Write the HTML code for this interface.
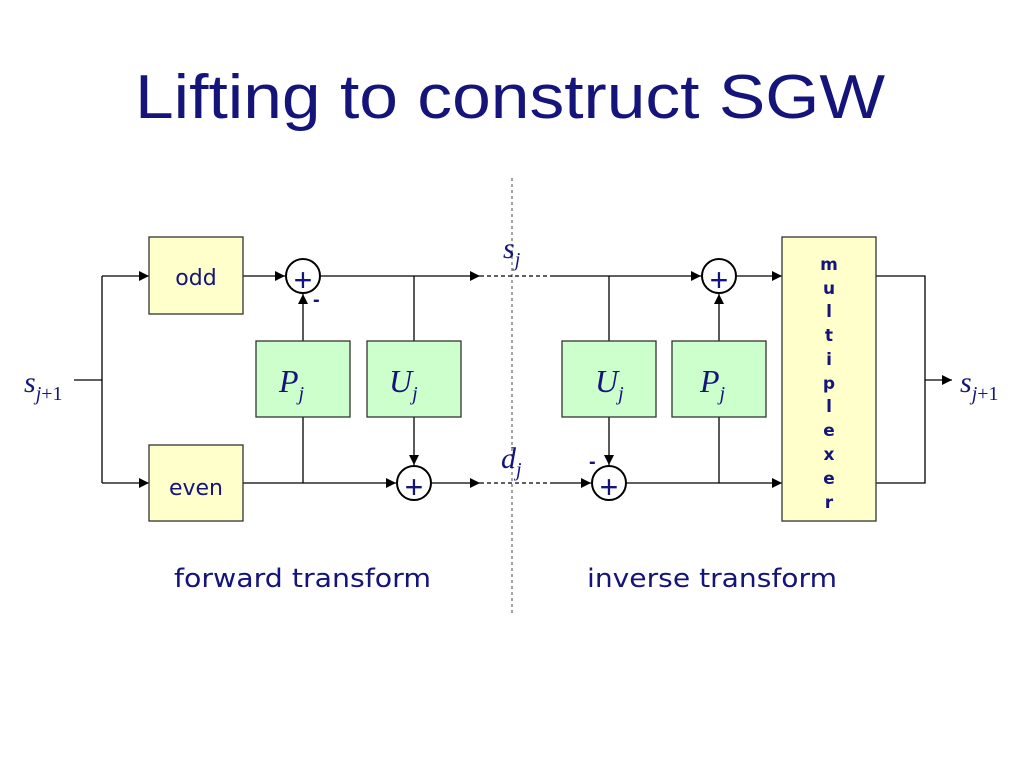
<!DOCTYPE html>
<html><head><meta charset="utf-8"><style>html,body{margin:0;padding:0;background:#fff}svg{display:block}</style></head>
<body>
<svg width="1024" height="768" xmlns="http://www.w3.org/2000/svg">
<defs>
<marker id="a" viewBox="0 0 10 10" refX="10" refY="5" markerWidth="10" markerHeight="12" markerUnits="userSpaceOnUse" orient="auto"><path d="M0,0 L10,5 L0,10 z" fill="#000"/></marker>
<marker id="b" viewBox="0 0 10 10" refX="10" refY="5" markerWidth="13" markerHeight="10" markerUnits="userSpaceOnUse" orient="auto"><path d="M0,0 L10,5 L0,10 z" fill="#000"/></marker>
</defs>
<text x="510" y="118" text-anchor="middle" font-family="'Comic Sans MS','Liberation Sans',sans-serif" font-size="62" fill="#14147a" textLength="750" lengthAdjust="spacingAndGlyphs">Lifting to construct SGW</text>
<line x1="512" y1="178" x2="512" y2="614" stroke="#888" stroke-width="1.5" stroke-dasharray="3,3"/>
<g stroke="#000" stroke-width="1.3" fill="none">
<line x1="74" y1="380" x2="102" y2="380"/>
<line x1="102" y1="276" x2="102" y2="483"/>
<line x1="102" y1="276" x2="149" y2="276" marker-end="url(#b)"/>
<line x1="102" y1="483" x2="149" y2="483" marker-end="url(#b)"/>
<line x1="243" y1="276" x2="285" y2="276" marker-end="url(#b)"/>
<line x1="321" y1="276" x2="480" y2="276" marker-end="url(#b)"/>
<line x1="243" y1="483" x2="396" y2="483" marker-end="url(#b)"/>
<line x1="432" y1="483" x2="480" y2="483" marker-end="url(#b)"/>
<line x1="303" y1="341" x2="303" y2="294" marker-end="url(#a)"/>
<line x1="303" y1="417" x2="303" y2="483"/>
<line x1="414" y1="276" x2="414" y2="341"/>
<line x1="414" y1="417" x2="414" y2="465" marker-end="url(#a)"/>
<line x1="480" y1="276" x2="550" y2="276" stroke-dasharray="4,3"/>
<line x1="480" y1="483" x2="550" y2="483" stroke-dasharray="4,3"/>
<line x1="550" y1="276" x2="701" y2="276" marker-end="url(#b)"/>
<line x1="550" y1="483" x2="591" y2="483" marker-end="url(#b)"/>
<line x1="737" y1="276" x2="782" y2="276" marker-end="url(#b)"/>
<line x1="627" y1="483" x2="782" y2="483" marker-end="url(#b)"/>
<line x1="609" y1="276" x2="609" y2="341"/>
<line x1="609" y1="417" x2="609" y2="465" marker-end="url(#a)"/>
<line x1="719" y1="341" x2="719" y2="294" marker-end="url(#a)"/>
<line x1="719" y1="417" x2="719" y2="483"/>
<polyline points="876,276 925,276 925,483 876,483"/>
<line x1="925" y1="380" x2="952" y2="380" marker-end="url(#b)"/>
</g>
<g stroke="#333" stroke-width="1.3">
<rect x="149" y="237" width="94" height="77" fill="#ffffcc"/>
<rect x="149" y="445" width="94" height="76" fill="#ffffcc"/>
<rect x="256" y="341" width="94" height="76" fill="#ccffcc"/>
<rect x="367" y="341" width="94" height="76" fill="#ccffcc"/>
<rect x="562" y="341" width="94" height="76" fill="#ccffcc"/>
<rect x="672" y="341" width="94" height="76" fill="#ccffcc"/>
<rect x="782" y="237" width="94" height="284" fill="#ffffcc"/>
</g>
<g stroke="#000" stroke-width="2" fill="#fff">
<circle cx="303" cy="276" r="17"/><circle cx="414" cy="483" r="17"/>
<circle cx="719" cy="276" r="17"/><circle cx="609" cy="483" r="17"/>
</g>
<g font-family="'Liberation Sans',sans-serif" font-size="32" fill="#14147a" text-anchor="middle">
<text x="303" y="291">+</text><text x="414" y="498">+</text><text x="719" y="291">+</text><text x="609" y="498">+</text>
</g>
<g font-family="'Liberation Sans',sans-serif" fill="#14147a" font-weight="bold" font-size="20">
<text x="313" y="306">-</text><text x="589" y="468">-</text>
</g>
<g font-family="'DejaVu Sans','Liberation Sans',sans-serif" font-size="22" fill="#14147a" text-anchor="middle">
<text x="196" y="285">odd</text><text x="196" y="495">even</text>
</g>
<g font-family="'Liberation Serif',serif" font-style="italic" fill="#14147a">
<text x="279" y="392" font-size="32">P<tspan font-size="20" dy="8">j</tspan></text>
<text x="389" y="392" font-size="32">U<tspan font-size="20" dy="8">j</tspan></text>
<text x="595" y="392" font-size="32">U<tspan font-size="20" dy="8">j</tspan></text>
<text x="700" y="392" font-size="32">P<tspan font-size="20" dy="8">j</tspan></text>
<text x="24" y="392" font-size="30">s<tspan font-size="20" dy="8">j</tspan><tspan font-style="normal" font-size="20">+1</tspan></text>
<text x="960" y="392" font-size="30">s<tspan font-size="20" dy="8">j</tspan><tspan font-style="normal" font-size="20">+1</tspan></text>
<text x="503" y="258" font-size="30">s<tspan font-size="20" dy="8">j</tspan></text>
<text x="501" y="468" font-size="30">d<tspan font-size="20" dy="8">j</tspan></text>
</g>
<g font-family="'DejaVu Sans','Liberation Sans',sans-serif" font-size="17" font-weight="bold" fill="#14147a" text-anchor="middle">
<text x="829" y="270">m</text><text x="829" y="294">u</text><text x="829" y="317">l</text><text x="829" y="341">t</text><text x="829" y="365">i</text><text x="829" y="389">p</text><text x="829" y="412">l</text><text x="829" y="436">e</text><text x="829" y="460">x</text><text x="829" y="484">e</text><text x="829" y="508">r</text>
</g>
<g font-family="'DejaVu Sans','Liberation Sans',sans-serif" font-size="26" fill="#14147a">
<text x="174" y="587" textLength="257" lengthAdjust="spacingAndGlyphs">forward transform</text><text x="587" y="587" textLength="250" lengthAdjust="spacingAndGlyphs">inverse transform</text>
</g>
</svg>
</body></html>
